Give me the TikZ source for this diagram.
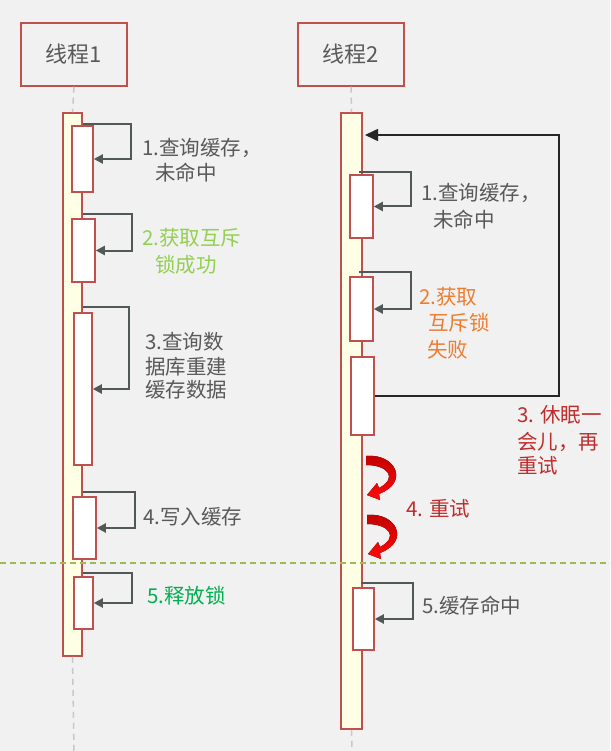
\documentclass[tikz,border=0pt]{standalone}
\usepackage{fontspec}
\newfontfamily\cjk{Noto Sans CJK SC}
\usetikzlibrary{arrows.meta}
\definecolor{bg}{HTML}{F1F1F1}
\definecolor{txt}{HTML}{595959}
\definecolor{boxred}{HTML}{C0504D}
\definecolor{barfill}{HTML}{FFFFE6}
\definecolor{lgreen}{HTML}{92D050}
\definecolor{dgreen}{HTML}{00B050}
\definecolor{orng}{HTML}{ED7D31}
\definecolor{dred}{HTML}{BE2D2D}
\definecolor{arrgray}{HTML}{505858}
\definecolor{divgreen}{HTML}{9BBB59}
\definecolor{curvered}{HTML}{FF0A0A}
\definecolor{curvedark}{HTML}{C00000}
\definecolor{lifegray}{HTML}{C8C8C8}
\tikzset{
  header/.style={draw=boxred, line width=1.5pt, fill=bg, minimum width=106pt, minimum height=63pt, inner sep=0pt, font=\cjk\fontsize{22}{26}\selectfont, text=txt},
  lifebar/.style={draw=boxred, line width=1.5pt, fill=barfill, inner sep=0pt},
  actbox/.style={draw=boxred, line width=1.5pt, fill=white, inner sep=0pt},
  lifeline/.style={draw=lifegray, line width=1.5pt, dash pattern=on 6pt off 5pt},
  selfloop/.style={draw=arrgray, line width=2pt, -{Triangle[length=9pt,width=9pt]}},
  backloop/.style={draw=black!85, line width=1.6pt, -{Triangle[length=13pt,width=12pt]}},
  lbl/.style={anchor=west, inner sep=0pt, font=\cjk\fontsize{20.5}{25}\selectfont, text=txt},
  divider/.style={draw=divgreen, line width=1.3pt, dash pattern=on 6pt off 4pt},
  redcurve/.pic={
    \fill[top color=curvedark, bottom color=curvered]
      (0,0) .. controls (29,-3) and (44,26) .. (13,38)
      -- (14,44) -- (1,39) -- (11,27) -- (13,32)
      .. controls (32,22) and (22,9) .. (0,9) -- cycle;
  },
}
\begin{document}
\begin{tikzpicture}[x=1pt,y=-1pt]
\useasboundingbox (0,0) rectangle (610,751);
\fill[bg] (0,0) rectangle (610,751);

% headers
\node[header] (h1) at (74,54.5) {线程1};
\node[header] (h2) at (351,54.5) {线程2};

% life bars
\node[lifebar, minimum width=19pt, minimum height=543pt] (bar1) at (72.5,384.5) {};
\node[lifebar, minimum width=21pt, minimum height=616pt] (bar2) at (351.5,421) {};
\coordinate (end1) at (74,751);
\coordinate (end2) at (352,751);
\draw[lifeline] (h1.south) -- (bar1.north);
\draw[lifeline] (bar1.south) -- (end1);
\draw[lifeline] (h2.south) -- (bar2.north);
\draw[lifeline] (bar2.south) -- (end2);

% divider
\coordinate (dl) at (0,563);
\coordinate (dr) at (610,563);
\draw[divider] (dl) -- (dr);

% thread 1 boxes
\node[actbox, minimum width=21pt, minimum height=66pt] (b1) at (82.5,159) {};
\node[actbox, minimum width=23pt, minimum height=63pt] (b2) at (83.5,250.5) {};
\node[actbox, minimum width=18pt, minimum height=152pt] (b3) at (83,389) {};
\node[actbox, minimum width=23pt, minimum height=62pt] (b4) at (84.5,528) {};
\node[actbox, minimum width=19pt, minimum height=52pt] (b5) at (83.5,603) {};

% thread 2 boxes
\node[actbox, minimum width=23pt, minimum height=63pt] (r1) at (361.5,206.5) {};
\node[actbox, minimum width=23pt, minimum height=64pt] (r2) at (361.5,309) {};
\node[actbox, minimum width=23pt, minimum height=78pt] (r3) at (362.5,396) {};
\node[actbox, minimum width=21pt, minimum height=62pt] (r5) at (363.5,619) {};

% self loops thread 1
\draw[selfloop] (bar1.east |- 0,124) -| (131,159) -- (b1.east);
\draw[selfloop] (bar1.east |- 0,214) -| (132,250.5) -- (b2.east);
\draw[selfloop] (bar1.east |- 0,307) -| (129,389) -- (b3.east);
\draw[selfloop] (bar1.east |- 0,492) -| (135,528) -- (b4.east);
\draw[selfloop] (bar1.east |- 0,573) -| (132,603) -- (b5.east);

% self loops thread 2
\draw[selfloop] (359,172) -| (411,206.5) -- (r1.east);
\draw[selfloop] (359,272) -| (411,309) -- (r2.east);
\draw[selfloop] (361,583) -| (413,619) -- (r5.east);

% retry loop
\coordinate (rtip) at (365,135);
\draw[backloop] (r3.east) -| (559,135) -- (rtip);

% red curved arrows
\pic at (366,456) {redcurve};
\pic at (367,515) {redcurve};

% labels thread 1
\node[lbl] (l1a) at (142,148) {1.查询缓存，};
\node[lbl] (l1b) at (155,173) {未命中};
\node[lbl, text=lgreen] (l2a) at (142,238) {2.获取互斥};
\node[lbl, text=lgreen] (l2b) at (155,265) {锁成功};
\node[lbl] (l3a) at (145,342) {3.查询数};
\node[lbl] (l3b) at (145,367) {据库重建};
\node[lbl] (l3c) at (145,390) {缓存数据};
\node[lbl] (l4) at (143,517) {4.写入缓存};
\node[lbl, text=dgreen] (l5) at (147,596) {5.释放锁};

% labels thread 2
\node[lbl] (m1a) at (421,193) {1.查询缓存，};
\node[lbl] (m1b) at (433,220) {未命中};
\node[lbl, text=orng] (m2a) at (419,297) {2.获取};
\node[lbl, text=orng] (m2b) at (428,323) {互斥锁};
\node[lbl, text=orng] (m2c) at (427,350) {失败};
\node[lbl, text=dred] (m3a) at (517,415) {3. 休眠一};
\node[lbl, text=dred] (m3b) at (517,442) {会儿，再};
\node[lbl, text=dred] (m3c) at (517,466) {重试};
\node[lbl, text=dred] (m4) at (406,509) {4. 重试};
\node[lbl] (m5) at (422,606) {5.缓存命中};
\end{tikzpicture}
\end{document}
